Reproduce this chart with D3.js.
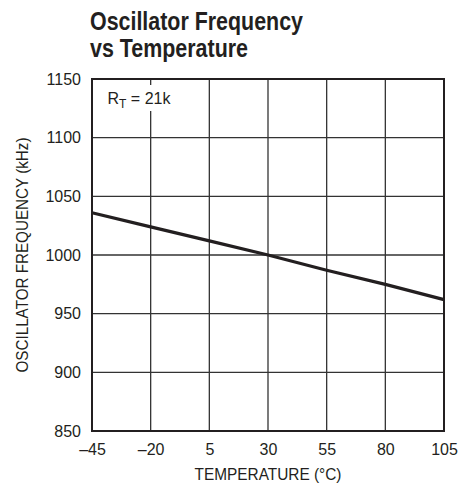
<!DOCTYPE html>
<html>
<head>
<meta charset="utf-8">
<script src="https://cdn.jsdelivr.net/npm/d3@7"></script>
<style>
  body { margin: 0; background: #fff; }
  text { fill: #231f20; }
</style>
</head>
<body>
<div id="chart"></div>
<script>
// data
const temps = [-45, -20, 5, 30, 55, 80, 105];
const freqs = [1036, 1024, 1012, 1000, 987, 975, 962];
const xTicks = [-45, -20, 5, 30, 55, 80, 105];
const yTicks = [850, 900, 950, 1000, 1050, 1100, 1150];

const W = 473, H = 489;
const margin = { top: 79, right: 29, bottom: 58, left: 92 };
const width = W - margin.left - margin.right,
  height = H - margin.top - margin.bottom;

const narrow = "'Liberation Sans Narrow', 'Arial Narrow', sans-serif";
const sans = "'Liberation Sans', Arial, sans-serif";

const svg = d3.select("#chart")
  .append("svg")
  .attr("width", W)
  .attr("height", H);

// title
const title = svg.append("g")
  .style("font-family", narrow)
  .style("font-weight", "bold")
  .style("font-size", "26px");
title.append("text").attr("x", 90).attr("y", 30)
  .attr("textLength", 213).attr("lengthAdjust", "spacingAndGlyphs")
  .text("Oscillator Frequency");
title.append("text").attr("x", 90).attr("y", 57)
  .attr("textLength", 158).attr("lengthAdjust", "spacingAndGlyphs")
  .text("vs Temperature");

const g = svg.append("g")
  .attr("transform", "translate(" + margin.left + "," + margin.top + ")");

const x = d3.scaleLinear().domain([-45, 105]).range([0, width]);
const y = d3.scaleLinear().domain([850, 1150]).range([height, 0]);

// grid
g.append("g")
  .selectAll("line")
  .data(xTicks)
  .enter()
  .append("line")
  .attr("x1", d => x(d)).attr("x2", d => x(d))
  .attr("y1", 0).attr("y2", height)
  .style("stroke", "#333")
  .style("stroke-width", 1.3);

g.append("g")
  .selectAll("line")
  .data(yTicks)
  .enter()
  .append("line")
  .attr("x1", 0).attr("x2", width)
  .attr("y1", d => y(d)).attr("y2", d => y(d))
  .style("stroke", "#333")
  .style("stroke-width", 1.3);

// frame
g.append("rect")
  .attr("width", width)
  .attr("height", height)
  .style("fill", "none")
  .style("stroke", "#231f20")
  .style("stroke-width", 2);

// label with white backing
g.append("rect")
  .attr("x", 11).attr("y", 6)
  .attr("width", 74).attr("height", 26)
  .style("fill", "#fff");

const lab = g.append("text")
  .attr("x", 15.5).attr("y", 24.5)
  .style("font-family", sans)
  .style("font-size", "16px");
lab.append("tspan").text("R");
lab.append("tspan").attr("dy", 4).style("font-size", "12px").text("T");
lab.append("tspan").attr("dy", -4).text(" = 21k");

// curve
const line = d3.line()
  .x((d, i) => x(temps[i]))
  .y(d => y(d));

g.append("path")
  .datum(freqs)
  .attr("d", line)
  .style("fill", "none")
  .style("stroke", "#231f20")
  .style("stroke-width", 3.2);

// axes
const xAxis = d3.axisBottom(x)
  .tickValues(xTicks)
  .tickSize(0)
  .tickPadding(13)
  .tickFormat(d => String(d).replace("-", "\u2013"));

g.append("g")
  .attr("transform", "translate(0," + height + ")")
  .call(xAxis)
  .call(s => s.select(".domain").remove())
  .selectAll("text")
  .style("font-family", sans)
  .style("font-size", "16px")
  .style("fill", "#231f20");

const yAxis = d3.axisLeft(y)
  .tickValues(yTicks)
  .tickSize(0)
  .tickPadding(11)
  .tickFormat(d3.format("d"));

g.append("g")
  .call(yAxis)
  .call(s => s.select(".domain").remove())
  .selectAll("text")
  .style("font-family", sans)
  .style("font-size", "16px")
  .style("fill", "#231f20");

// axis titles
svg.append("text")
  .attr("x", margin.left + width / 2)
  .attr("y", 480)
  .attr("text-anchor", "middle")
  .attr("textLength", 147).attr("lengthAdjust", "spacingAndGlyphs")
  .style("font-family", sans)
  .style("font-size", "16px")
  .text("TEMPERATURE (°C)");

svg.append("text")
  .attr("transform", "translate(28," + (margin.top + height / 2) + ") rotate(-90)")
  .attr("text-anchor", "middle")
  .attr("textLength", 235).attr("lengthAdjust", "spacingAndGlyphs")
  .style("font-family", sans)
  .style("font-size", "16px")
  .text("OSCILLATOR FREQUENCY (kHz)");
</script>
</body>
</html>
